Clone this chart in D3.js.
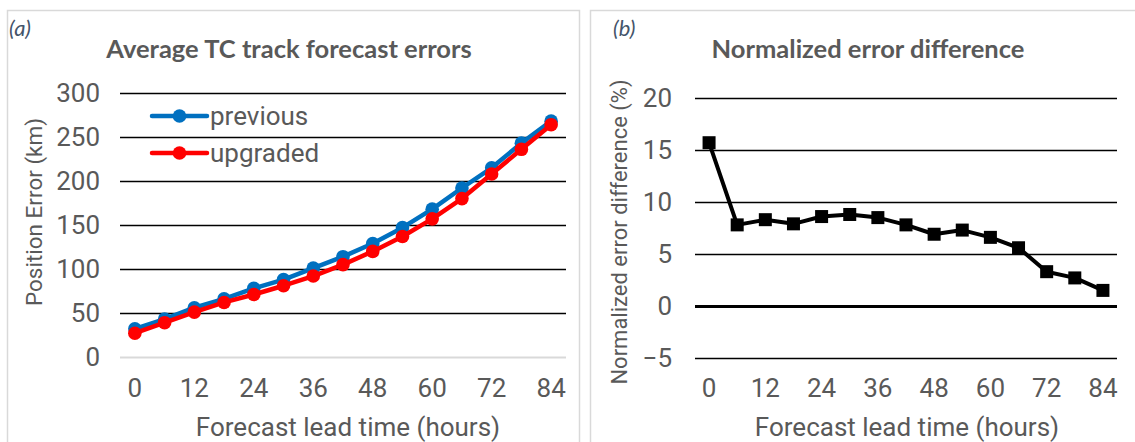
<!DOCTYPE html>
<html>
<head>
<meta charset="utf-8">
<script src="https://cdn.jsdelivr.net/npm/d3@7"></script>
<style>
    body { margin: 0; background: #fff; }
    text { font-family: Roboto, "Liberation Sans", sans-serif; }
</style>
</head>
<body>
<svg id="chart" width="1135" height="442"></svg>
<script>
// lead times (hours), one point every 6 h
const leadTimes = [0, 6, 12, 18, 24, 30, 36, 42, 48, 54, 60, 66, 72, 78, 84];
const hourTicks = [0, 12, 24, 36, 48, 60, 72, 84];

// (a) average position error, km
const previousErr = [32, 43, 56, 66, 78, 88, 101, 114, 129, 147, 168, 192, 215, 243, 268];
const upgradedErr = [27, 39, 51, 62, 71, 81, 92, 105, 120, 137, 157, 180, 208, 236, 264];
const errTicks = [0, 50, 100, 150, 200, 250, 300];

// (b) normalized error difference, %
const normDiff = [15.7, 7.8, 8.3, 7.9, 8.6, 8.8, 8.5, 7.8, 6.9, 7.3, 6.6, 5.6, 3.3, 2.7, 1.5];
const diffTicks = [-5, 0, 5, 10, 15, 20];

const svg = d3.select("#chart");
const grey = "#595959";

/* ------------------------
   PANEL FRAMES
-------------------------*/
svg.append("rect")
    .attr("x", 7.5).attr("y", 10.5)
    .attr("width", 572).attr("height", 450)
    .attr("fill", "none").attr("stroke", "#D9D9D9").attr("stroke-width", 1.5);

svg.append("rect")
    .attr("x", 590.5).attr("y", 10.5)
    .attr("width", 560).attr("height", 450)
    .attr("fill", "none").attr("stroke", "#D9D9D9").attr("stroke-width", 1.5);

function panelLetter(x, label) {
    svg.append("text")
        .attr("x", x).attr("y", 36)
        .style("font-family", "Lato, sans-serif")
        .style("font-style", "italic")
        .style("font-size", "22px")
        .attr("fill", "#44546A")
        .text(label);
}

function panelTitle(x, label) {
    svg.append("text")
        .attr("x", x).attr("y", 58)
        .attr("text-anchor", "middle")
        .style("font-family", "Lato, sans-serif")
        .style("font-weight", "bold")
        .style("font-size", "25.5px")
        .attr("fill", grey)
        .text(label);
}

function styleAxisText(g) {
    g.select(".domain").remove();
    g.selectAll("text")
        .style("font-size", "26px")
        .attr("fill", grey);
}

/* ------------------------
   CHART A
-------------------------*/
const xA = d3.scaleBand().domain(leadTimes).range([120, 566]);
const yA = d3.scaleLinear().domain([0, 300]).range([357, 93]);

panelLetter(9, "(a)");
panelTitle(289, "Average TC track forecast errors");

const yAxisA = svg.append("g")
    .attr("transform", "translate(120,0)")
    .call(d3.axisLeft(yA).tickValues(errTicks).tickSize(-(566 - 120)).tickPadding(20));
styleAxisText(yAxisA);
yAxisA.selectAll("line")
    .attr("stroke", d => d === 0 ? "#D9D9D9" : "#000")
    .attr("stroke-width", d => d === 0 ? 2 : 1.3);

const xAxisA = svg.append("g")
    .attr("transform", "translate(0,357)")
    .call(d3.axisBottom(xA).tickValues(hourTicks).tickSize(0).tickPadding(21.5));
styleAxisText(xAxisA);

svg.append("text")
    .attr("transform", "translate(42,212) rotate(-90)")
    .attr("text-anchor", "middle")
    .style("font-size", "22.5px")
    .attr("fill", grey)
    .text("Position Error (km)");

svg.append("text")
    .attr("x", 348).attr("y", 436)
    .attr("text-anchor", "middle")
    .style("font-size", "26px")
    .attr("fill", grey)
    .text("Forecast lead time (hours)");

const seriesA = [
    { name: "previous", values: previousErr, color: "#0070C0" },
    { name: "upgraded", values: upgradedErr, color: "#FF0000" }
];

const lineA = d3.line()
    .x((d, i) => xA(leadTimes[i]) + xA.bandwidth() / 2)
    .y(d => yA(d));

seriesA.forEach(s => {
    const g = svg.append("g");
    g.append("path")
        .datum(s.values)
        .attr("d", lineA)
        .attr("fill", "none")
        .attr("stroke", s.color)
        .attr("stroke-width", 4.5)
        .attr("stroke-linejoin", "round");
    g.selectAll("circle")
        .data(s.values)
        .enter()
        .append("circle")
        .attr("cx", (d, i) => xA(leadTimes[i]) + xA.bandwidth() / 2)
        .attr("cy", d => yA(d))
        .attr("r", 6.8)
        .attr("fill", s.color);
});

// legend
const legend = svg.append("g");
seriesA.forEach((s, i) => {
    const ly = 116 + i * 37;
    legend.append("line")
        .attr("x1", 152).attr("x2", 207)
        .attr("y1", ly).attr("y2", ly)
        .attr("stroke", s.color).attr("stroke-width", 4.5)
        .attr("stroke-linecap", "round");
    legend.append("circle")
        .attr("cx", 179.5).attr("cy", ly).attr("r", 6.8)
        .attr("fill", s.color);
    legend.append("text")
        .attr("x", 210).attr("y", ly + 9)
        .style("font-size", "26px")
        .attr("fill", grey)
        .text(s.name);
});

/* ------------------------
   CHART B
-------------------------*/
const xB = d3.scaleBand().domain(leadTimes).range([695, 1117]);
const yB = d3.scaleLinear().domain([-5, 20]).range([358, 98]);

panelLetter(613, "(b)");
panelTitle(868, "Normalized error difference");

const yAxisB = svg.append("g")
    .attr("transform", "translate(695,0)")
    .call(d3.axisLeft(yB).tickValues(diffTicks).tickSize(-(1117 - 695)).tickPadding(23));
styleAxisText(yAxisB);
yAxisB.selectAll("line")
    .attr("stroke", "#000")
    .attr("stroke-width", d => d === 0 ? 3.2 : 1.3);

const xAxisB = svg.append("g")
    .attr("transform", "translate(0,358)")
    .call(d3.axisBottom(xB).tickValues(hourTicks).tickSize(0).tickPadding(20.5));
styleAxisText(xAxisB);

svg.append("text")
    .attr("transform", "translate(627,232) rotate(-90)")
    .attr("text-anchor", "middle")
    .style("font-size", "22px")
    .attr("fill", grey)
    .text("Normalized error difference (%)");

svg.append("text")
    .attr("x", 907).attr("y", 436)
    .attr("text-anchor", "middle")
    .style("font-size", "26px")
    .attr("fill", grey)
    .text("Forecast lead time (hours)");

const lineB = d3.line()
    .x((d, i) => xB(leadTimes[i]) + xB.bandwidth() / 2)
    .y(d => yB(d));

svg.append("path")
    .datum(normDiff)
    .attr("d", lineB)
    .attr("fill", "none")
    .attr("stroke", "#000")
    .attr("stroke-width", 4)
    .attr("stroke-linejoin", "round");

const sq = 13;
svg.selectAll("rect.marker")
    .data(normDiff)
    .enter()
    .append("rect")
    .attr("class", "marker")
    .attr("x", (d, i) => xB(leadTimes[i]) + xB.bandwidth() / 2 - sq / 2)
    .attr("y", d => yB(d) - sq / 2)
    .attr("width", sq)
    .attr("height", sq)
    .attr("fill", "#000");
</script>
</body>
</html>
